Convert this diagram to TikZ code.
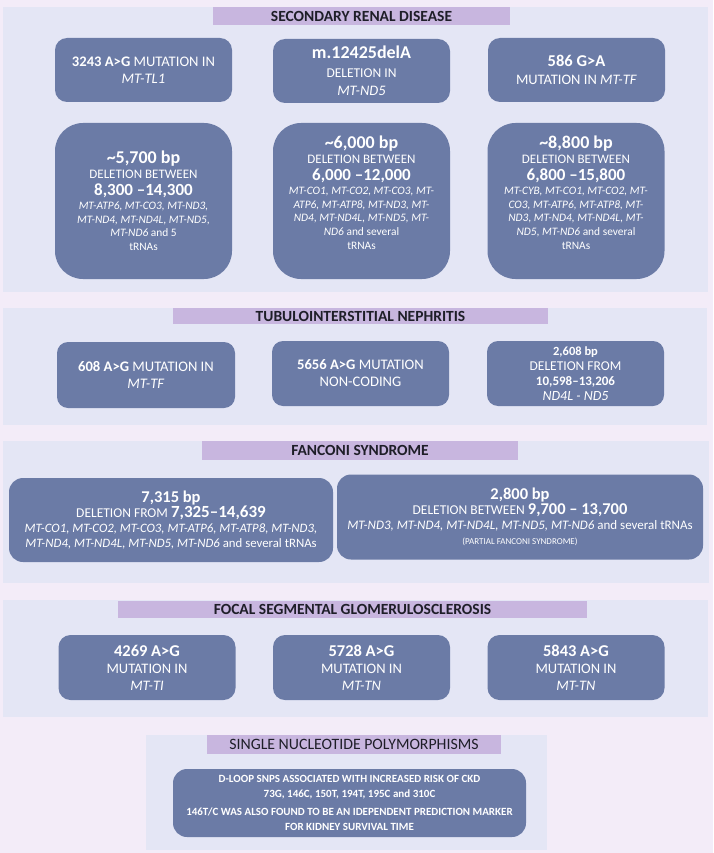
\documentclass[tikz,border=0pt]{standalone}
\usepackage{fontspec}
\setmainfont{Carlito}
\newcommand\FS[2]{\fontsize{#1}{#2}\selectfont}
\definecolor{bgpink}{HTML}{F3ECF8}
\definecolor{panelc}{HTML}{E4E6F5}
\definecolor{titlec}{HTML}{C8B6DF}
\definecolor{boxc}{HTML}{6B7BA6}
\definecolor{titletext}{HTML}{1E1E28}
\tikzset{
  panel/.style={fill=panelc, draw=none},
  titlebar/.style={fill=titlec, draw=none, inner sep=0pt, text=titletext, font=\FS{15.5}{17}\bfseries},
  mbox/.style={fill=boxc, draw=none, text=white, align=center, inner sep=2pt},
  smallbox/.style={mbox, minimum width=177pt, minimum height=64pt, rounded corners=12pt},
  bigbox/.style={mbox, minimum width=177pt, minimum height=156pt, rounded corners=28pt},
  bigtext/.style={text=white, align=center, inner sep=0pt, font=\FS{11.4}{13.8}},
}
\begin{document}
\begin{tikzpicture}[x=1pt,y=-1pt]
\path[use as bounding box, fill=bgpink] (0,0) rectangle (713,853);
% panels
\fill[panel] (3,7) rectangle (708,292);
\fill[panel] (3,308) rectangle (707,425);
\fill[panel] (3,441) rectangle (709,583);
\fill[panel] (3,600) rectangle (708,717);
\fill[panel] (146,735) rectangle (547,850);

% ---------- Section 1
\node[titlebar, minimum width=297pt, minimum height=18pt] (t1) at (361.5,16) {SECONDARY RENAL DISEASE};
\node[smallbox, font=\FS{14.6}{17.5}] (a1) at (143.5,70) {\textbf{3243 A>G} MUTATION IN\\\textit{MT-TL1}};
\node[smallbox, font=\FS{14.5}{18.5}] (a2) at (361.5,71) {{\FS{18}{20}\bfseries m.12425delA}\\{\FS{13.5}{15}DELETION IN}\\{\itshape MT-ND5}};
\node[smallbox, font=\FS{14.5}{18}] (a3) at (576.5,70) {{\FS{16.5}{18}\bfseries 586 G>A}\\MUTATION IN \textit{MT-TF}};

\node[bigbox] (b1) at (143.5,201) {};
\node[bigbox] (b2) at (361.5,201) {};
\node[bigbox] (b3) at (576,201) {};
\node[bigtext] (b1t) at (143.5,201) {{\FS{18}{20}\bfseries \textasciitilde5,700 bp}\\[1pt]{\FS{13}{15}DELETION BETWEEN}\\[3pt]{\FS{17}{20}\bfseries 8,300 --14,300}\\
{\itshape MT-ATP6, MT-CO3, MT-ND3,}\\{\itshape MT-ND4, MT-ND4L, MT-ND5,}\\{\itshape MT-ND6} and 5\\tRNAs};
\node[bigtext] (b2t) at (361.5,193) {{\FS{18}{20}\bfseries \textasciitilde6,000 bp}\\[1pt]{\FS{13}{15}DELETION BETWEEN}\\[3pt]{\FS{17}{20}\bfseries 6,000 --12,000}\\
{\itshape MT-CO1, MT-CO2, MT-CO3, MT-}\\{\itshape ATP6, MT-ATP8, MT-ND3, MT-}\\{\itshape ND4, MT-ND4L, MT-ND5, MT-}\\{\itshape ND6} and several\\tRNAs};
\node[bigtext] (b3t) at (576,193) {{\FS{18}{20}\bfseries \textasciitilde8,800 bp}\\[1pt]{\FS{13}{15}DELETION BETWEEN}\\[3pt]{\FS{17}{20}\bfseries 6,800 --15,800}\\
{\itshape MT-CYB, MT-CO1, MT-CO2, MT-}\\{\itshape CO3, MT-ATP6, MT-ATP8, MT-}\\{\itshape ND3, MT-ND4, MT-ND4L, MT-}\\{\itshape ND5, MT-ND6} and several\\tRNAs};

% ---------- Section 2
\node[titlebar, minimum width=375pt, minimum height=16pt] (t2) at (360.5,316) {TUBULOINTERSTITIAL NEPHRITIS};
\node[smallbox, minimum width=178pt, minimum height=66pt, rounded corners=11pt, font=\FS{14.6}{17}] (c1) at (146,375) {\textbf{608 A>G} MUTATION IN\\\textit{MT-TF}};
\node[smallbox, minimum width=177pt, minimum height=65pt, rounded corners=11pt, font=\FS{14.6}{17}] (c2) at (360.5,373.5) {\textbf{5656 A>G} MUTATION\\NON-CODING};
\node[smallbox, minimum width=177pt, minimum height=65pt, rounded corners=11pt, font=\FS{13.5}{15}] (c3) at (575.5,373.5) {{\FS{12.5}{14}\bfseries 2,608 bp}\\DELETION FROM\\{\FS{13}{14}\bfseries 10,598--13,206}\\{\FS{14}{15}\itshape ND4L - ND5}};

% ---------- Section 3
\node[titlebar, minimum width=316pt, minimum height=19pt] (t3) at (360,450.5) {FANCONI SYNDROME};
\node[mbox, minimum width=324pt, minimum height=84pt, rounded corners=14pt, font=\FS{12.8}{14.8}] (d1) at (171,520) {{\FS{16.5}{18}\bfseries 7,315 bp}\\{\FS{13.5}{15}DELETION FROM \FS{17}{18}\bfseries 7,325--14,639}\\{\itshape MT-CO1, MT-CO2, MT-CO3, MT-ATP6, MT-ATP8, MT-ND3,}\\{\itshape MT-ND4, MT-ND4L, MT-ND5, MT-ND6} and several tRNAs};
\node[mbox, minimum width=366pt, minimum height=85pt, rounded corners=14pt, font=\FS{13}{14.8}] (d2) at (520,517) {{\FS{16.5}{18}\bfseries 2,800 bp}\\{\FS{13.5}{15}DELETION BETWEEN \FS{16.5}{18}\bfseries 9,700 -- 13,700}\\{\itshape MT-ND3, MT-ND4, MT-ND4L, MT-ND5, MT-ND6} and several tRNAs\\{\FS{9}{10}(PARTIAL FANCONI SYNDROME)}};

% ---------- Section 4
\node[titlebar, minimum width=469pt, minimum height=17pt] (t4) at (352.5,609) {FOCAL SEGMENTAL GLOMERULOSCLEROSIS};
\node[smallbox, minimum height=65pt, font=\FS{14.5}{17}] (e1) at (147,667.5) {{\FS{16.5}{18}\bfseries 4269 A>G}\\MUTATION IN\\\textit{MT-TI}};
\node[smallbox, minimum height=65pt, font=\FS{14.5}{17}] (e2) at (361.5,667.5) {{\FS{16.5}{18}\bfseries 5728 A>G}\\MUTATION IN\\\textit{MT-TN}};
\node[smallbox, minimum height=65pt, font=\FS{14.5}{17}] (e3) at (576,667.5) {{\FS{16.5}{18}\bfseries 5843 A>G}\\MUTATION IN\\\textit{MT-TN}};

% ---------- Section 5
\node[titlebar, minimum width=294pt, minimum height=19pt, font=\FS{15.8}{17}] (t5) at (354,744.5) {SINGLE NUCLEOTIDE POLYMORPHISMS};
\node[mbox, minimum width=353pt, minimum height=68pt, rounded corners=14pt, font=\FS{11}{14.5}\bfseries] (f1) at (349.5,803) {D-LOOP SNPS ASSOCIATED WITH INCREASED RISK OF CKD\\73G, 146C, 150T, 194T, 195C and 310C\\[4pt]146T/C WAS ALSO FOUND TO BE AN IDEPENDENT PREDICTION MARKER\\FOR KIDNEY SURVIVAL TIME};
\end{tikzpicture}
\end{document}
